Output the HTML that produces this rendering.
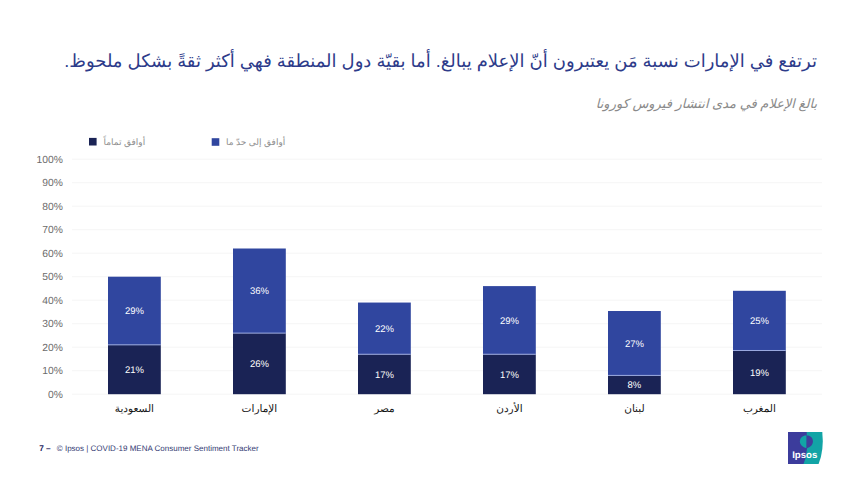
<!DOCTYPE html>
<html lang="ar"><head><meta charset="utf-8"><title>Ipsos chart</title>
<style>
html,body{margin:0;padding:0;background:#fff;}
body{width:850px;height:480px;overflow:hidden;font-family:"Liberation Sans",sans-serif;}
svg{display:block;position:absolute;left:0;top:0;}
svg text{font-family:"Liberation Sans",sans-serif;text-rendering:geometricPrecision;}
</style></head><body>
<svg width="850" height="480" viewBox="0 0 850 480">
<rect width="850" height="480" fill="#fff"/>
<rect x="72" y="393.70" width="750" height="1" fill="#f5f5f5"/>
<text x="62.8" y="397.80" text-anchor="end" font-size="10.3" fill="#6b6b6b">0%</text>
<rect x="72" y="370.20" width="750" height="1" fill="#f5f5f5"/>
<text x="62.8" y="374.30" text-anchor="end" font-size="10.3" fill="#6b6b6b">10%</text>
<rect x="72" y="346.70" width="750" height="1" fill="#f5f5f5"/>
<text x="62.8" y="350.80" text-anchor="end" font-size="10.3" fill="#6b6b6b">20%</text>
<rect x="72" y="323.20" width="750" height="1" fill="#f5f5f5"/>
<text x="62.8" y="327.30" text-anchor="end" font-size="10.3" fill="#6b6b6b">30%</text>
<rect x="72" y="299.70" width="750" height="1" fill="#f5f5f5"/>
<text x="62.8" y="303.80" text-anchor="end" font-size="10.3" fill="#6b6b6b">40%</text>
<rect x="72" y="276.20" width="750" height="1" fill="#f5f5f5"/>
<text x="62.8" y="280.30" text-anchor="end" font-size="10.3" fill="#6b6b6b">50%</text>
<rect x="72" y="252.70" width="750" height="1" fill="#f5f5f5"/>
<text x="62.8" y="256.80" text-anchor="end" font-size="10.3" fill="#6b6b6b">60%</text>
<rect x="72" y="229.20" width="750" height="1" fill="#f5f5f5"/>
<text x="62.8" y="233.30" text-anchor="end" font-size="10.3" fill="#6b6b6b">70%</text>
<rect x="72" y="205.70" width="750" height="1" fill="#f5f5f5"/>
<text x="62.8" y="209.80" text-anchor="end" font-size="10.3" fill="#6b6b6b">80%</text>
<rect x="72" y="182.20" width="750" height="1" fill="#f5f5f5"/>
<text x="62.8" y="186.30" text-anchor="end" font-size="10.3" fill="#6b6b6b">90%</text>
<rect x="72" y="158.70" width="750" height="1" fill="#f5f5f5"/>
<text x="62.8" y="162.80" text-anchor="end" font-size="10.3" fill="#6b6b6b">100%</text>
<rect x="108.00" y="276.70" width="52.8" height="68.15" fill="#30469f"/>
<rect x="108.00" y="344.85" width="52.8" height="49.35" fill="#1a2355"/>
<rect x="108.00" y="344.35" width="52.8" height="1" fill="#9aa9e0"/>
<text x="134.40" y="314.17" text-anchor="middle" font-size="9.5" fill="#fff">29%</text>
<text x="134.40" y="372.92" text-anchor="middle" font-size="9.5" fill="#fff">21%</text>
<rect x="233.00" y="248.50" width="52.8" height="84.60" fill="#30469f"/>
<rect x="233.00" y="333.10" width="52.8" height="61.10" fill="#1a2355"/>
<rect x="233.00" y="332.60" width="52.8" height="1" fill="#9aa9e0"/>
<text x="259.40" y="294.20" text-anchor="middle" font-size="9.5" fill="#fff">36%</text>
<text x="259.40" y="367.05" text-anchor="middle" font-size="9.5" fill="#fff">26%</text>
<rect x="358.00" y="302.55" width="52.8" height="51.70" fill="#30469f"/>
<rect x="358.00" y="354.25" width="52.8" height="39.95" fill="#1a2355"/>
<rect x="358.00" y="353.75" width="52.8" height="1" fill="#9aa9e0"/>
<text x="384.40" y="331.80" text-anchor="middle" font-size="9.5" fill="#fff">22%</text>
<text x="384.40" y="377.62" text-anchor="middle" font-size="9.5" fill="#fff">17%</text>
<rect x="483.00" y="286.10" width="52.8" height="68.15" fill="#30469f"/>
<rect x="483.00" y="354.25" width="52.8" height="39.95" fill="#1a2355"/>
<rect x="483.00" y="353.75" width="52.8" height="1" fill="#9aa9e0"/>
<text x="509.40" y="323.57" text-anchor="middle" font-size="9.5" fill="#fff">29%</text>
<text x="509.40" y="377.62" text-anchor="middle" font-size="9.5" fill="#fff">17%</text>
<rect x="608.00" y="311.01" width="52.8" height="64.39" fill="#30469f"/>
<rect x="608.00" y="375.40" width="52.8" height="18.80" fill="#1a2355"/>
<rect x="608.00" y="374.90" width="52.8" height="1" fill="#9aa9e0"/>
<text x="634.40" y="346.60" text-anchor="middle" font-size="9.5" fill="#fff">27%</text>
<text x="634.40" y="388.20" text-anchor="middle" font-size="9.5" fill="#fff">8%</text>
<rect x="733.00" y="290.80" width="52.8" height="59.69" fill="#30469f"/>
<rect x="733.00" y="350.49" width="52.8" height="43.71" fill="#1a2355"/>
<rect x="733.00" y="349.99" width="52.8" height="1" fill="#9aa9e0"/>
<text x="759.40" y="324.04" text-anchor="middle" font-size="9.5" fill="#fff">25%</text>
<text x="759.40" y="375.75" text-anchor="middle" font-size="9.5" fill="#fff">19%</text>
<rect x="89" y="137.9" width="7.6" height="7.6" fill="#1a2355"/>
<rect x="211.7" y="138.2" width="7.6" height="7.6" fill="#30469f"/>
<text x="39.2" y="451.4" font-size="8.3" font-weight="bold" fill="#1f2460">7 –</text>
<text x="56.8" y="451.4" font-size="8.0" fill="#353b73">© Ipsos | COVID-19 MENA Consumer Sentiment Tracker</text>
<text x="817" y="66.9" direction="rtl" text-anchor="start" font-size="18" fill="#2d3b8a">ترتفع في الإمارات نسبة مَن يعتبرون أنّ الإعلام يبالغ. أما بقيّة دول المنطقة فهي أكثر ثقةً بشكل ملحوظ.</text>
<text x="817" y="108" direction="rtl" text-anchor="start" font-size="13" font-style="italic" fill="#8a8a8a">بالغ الإعلام في مدى انتشار فيروس كورونا</text>
<text x="103.5" y="145.1" font-size="9" fill="#8e8e8e">أوافق تماماً</text>
<text x="226" y="145.1" font-size="9" fill="#8e8e8e">أوافق إلى حدّ ما</text>
<text x="134.4" y="411.56" text-anchor="middle" font-size="10.5" fill="#151515">السعودية</text>
<text x="259.4" y="411.56" text-anchor="middle" font-size="10.5" fill="#151515">الإمارات</text>
<text x="384.4" y="411.56" text-anchor="middle" font-size="10.5" fill="#151515">مصر</text>
<text x="509.4" y="411.56" text-anchor="middle" font-size="10.5" fill="#151515">الأردن</text>
<text x="634.4" y="411.56" text-anchor="middle" font-size="10.5" fill="#151515">لبنان</text>
<text x="759.4" y="411.56" text-anchor="middle" font-size="10.5" fill="#151515">المغرب</text>
<g id="logo">
<path d="M788 432 L822.3 432 Q824.2 450 818.6 464 L788 464 Z" fill="#12a4a6"/>
<path d="M788 432 L806.7 432 L807.1 448 Q806.6 457 803.5 464 L788 464 Z" fill="#3c3c9c"/>
<path d="M806.6 435.6 C802.6 435.4 799.9 438.2 799.9 441.4 C799.9 444.6 802.8 447.2 806.6 448.2 Z" fill="#12a4a6"/>
<path d="M806.6 435.6 C810.6 435.4 812.9 438.2 812.9 441.4 C812.9 444.6 810.4 447.2 806.6 448.2 Z" fill="#3f3f9c"/>
<text x="804.7" y="457.6" text-anchor="middle" font-size="9.6" font-weight="bold" fill="#fff">Ipsos</text>
</g>

</svg>
</body></html>
